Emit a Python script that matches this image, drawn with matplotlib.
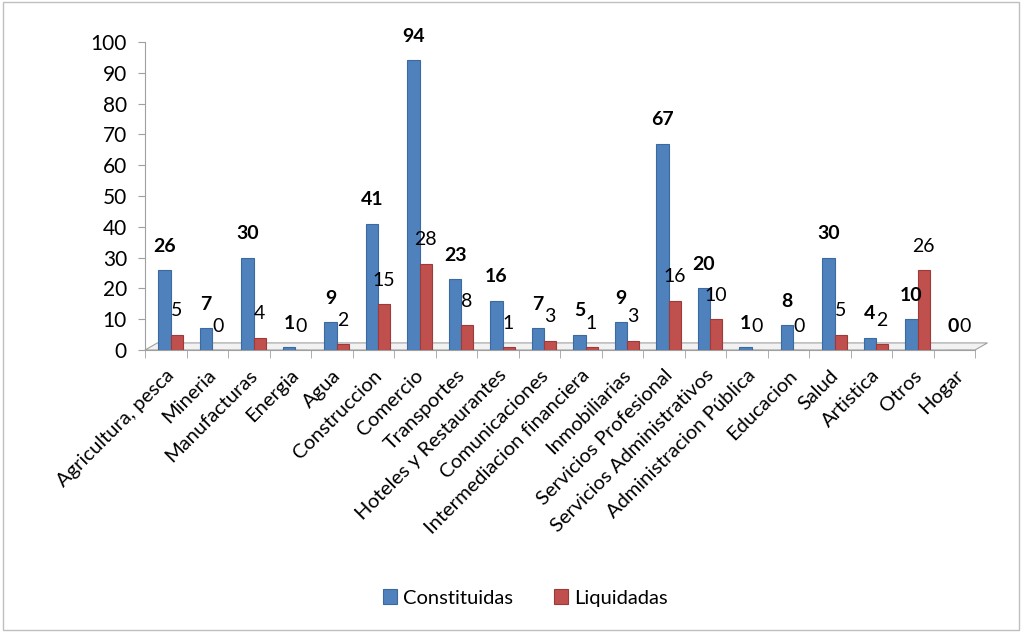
import numpy as np
import matplotlib.pyplot as plt
from matplotlib.patches import Rectangle, Polygon

categorias = ['Agricultura, pesca', 'Mineria', 'Manufacturas', 'Energia', 'Agua',
              'Construccion', 'Comercio', 'Transportes', 'Hoteles y Restaurantes',
              'Comunicaciones', 'Intermediacion financiera', 'Inmobiliarias',
              'Servicios Profesional', 'Servicios Administrativos',
              'Administracion Pública', 'Educacion', 'Salud', 'Artistica', 'Otros', 'Hogar']
constituidas = [26, 7, 30, 1, 9, 41, 94, 23, 16, 7, 5, 9, 67, 20, 1, 8, 30, 4, 10, 0]
liquidadas = [5, 0, 4, 0, 2, 15, 28, 8, 1, 3, 1, 3, 16, 10, 0, 0, 5, 2, 26, 0]

azul = '#4f81bd'
rojo = '#c0504d'
plt.rcParams['font.family'] = ['Lato', 'DejaVu Sans']

fig = plt.figure(figsize=(10.22, 6.32), dpi=100)
ax = fig.add_axes([145 / 1022, 1 - 350 / 632, (975 - 145) / 1022, (350 - 42) / 632])

x = np.arange(len(categorias))
w = 0.29
xb = x + 0.5 - 0.03
xr = xb + w
b1 = ax.bar(xb, constituidas, w, color=azul, edgecolor='#3a6a9f', linewidth=0.8, zorder=3)
b2 = ax.bar(xr, liquidadas, w, color=rojo, edgecolor='#9c3b38', linewidth=0.8, zorder=3)

for xi, v in zip(xb, constituidas):
    ax.annotate(str(v), (xi, v), xytext=(0, 11), textcoords='offset points',
                ha='center', va='bottom', fontsize=14, fontweight='bold')
for xi, v in zip(xr, liquidadas):
    ax.annotate(str(v), (xi, v), xytext=(0, 11), textcoords='offset points',
                ha='center', va='bottom', fontsize=14)

# piso gris estilo 3D
floor = Polygon([(0, 0), (len(x), 0), (len(x) + 0.3, 2.3), (0.3, 2.3)], closed=True,
                facecolor='#f2f2f2', edgecolor='#a0a0a0', linewidth=0.8, zorder=1, clip_on=False)
ax.add_patch(floor)

ax.set_xlim(0, len(x))
ax.set_ylim(0, 100)
ax.set_yticks(range(0, 101, 10))
ax.set_xticks(x + 0.5)
ax.set_xticklabels(categorias, rotation=45, ha='right', rotation_mode='anchor', fontsize=14.5)
ax.set_xticks(np.arange(len(x) + 1), minor=True)
ax.tick_params(axis='x', which='major', length=0, pad=12)
ax.tick_params(axis='x', which='minor', length=6, color='#a0a0a0', direction='out')
ax.tick_params(axis='y', labelsize=15, length=5, color='#a0a0a0', pad=8)
for s in ['top', 'right']:
    ax.spines[s].set_visible(False)
ax.spines['left'].set_color('#a0a0a0')
ax.spines['bottom'].set_color('#a0a0a0')

fig.legend([b1, b2], ['Constituidas', 'Liquidadas'], loc='center', bbox_to_anchor=(0.514, 1 - 598 / 632),
           ncol=2, frameon=False, fontsize=14.5, handlelength=0.7, handleheight=0.7, columnspacing=2.0,
           handletextpad=0.3)

fig.patches.append(Rectangle((0.003, 0.003), 0.994, 0.994, transform=fig.transFigure,
                             fill=False, edgecolor='#bfbfbf', linewidth=1))

plt.savefig('out.png', dpi=100)
